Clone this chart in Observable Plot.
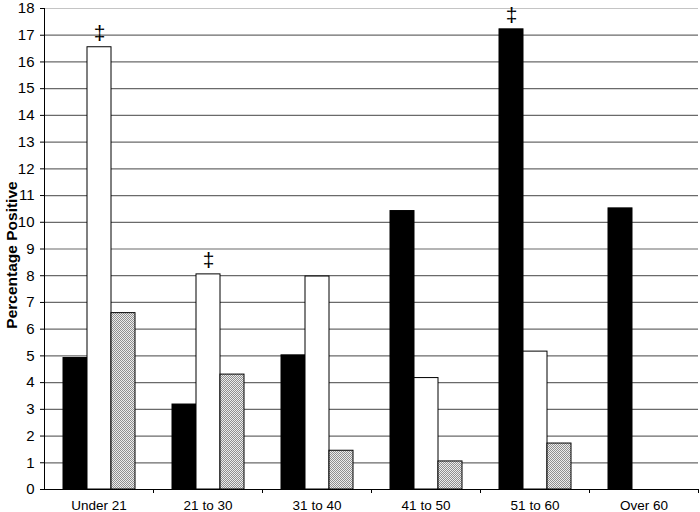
<!DOCTYPE html>
<html>
<head>
<meta charset="utf-8">
<script src="https://cdn.jsdelivr.net/npm/d3@7"></script>
<script src="https://cdn.jsdelivr.net/npm/@observablehq/plot@0.6"></script>
<style>
  html, body { margin: 0; padding: 0; background: white; }
</style>
</head>
<body>
<div id="chart"></div>
<script>
const categories = ["Under 21", "21 to 30", "31 to 40", "41 to 50", "51 to 60", "Over 60"];
const seriesNames = ["Series 1", "Series 2", "Series 3"];
const series1 = [4.92, 3.18, 5.02, 10.42, 17.22, 10.52];
const series2 = [16.55, 8.05, 7.97, 4.17, 5.16, null];
const series3 = [6.60, 4.30, 1.45, 1.05, 1.72, null];
const yTicks = [0, 1, 2, 3, 4, 5, 6, 7, 8, 9, 10, 11, 12, 13, 14, 15, 16, 17, 18];
const daggerCategories = ["Under 21", "21 to 30", "51 to 60"];
const daggerSeries = ["Series 2", "Series 2", "Series 1"];
const yLabel = "Percentage Positive";

const seriesValues = [series1, series2, series3];
const table = [];
categories.forEach((c, i) => {
  seriesNames.forEach((s, j) => {
    const v = seriesValues[j][i];
    if (v != null) table.push({category: c, series: s, value: v});
  });
});
const daggers = daggerCategories.map((c, k) => {
  const s = daggerSeries[k];
  const j = seriesNames.indexOf(s);
  return {category: c, series: s, value: seriesValues[j][categories.indexOf(c)]};
});

const W = 700, H = 512, mL = 44, mR = 2, mT = 8, mB = 23;
const fxBand = (W - mL - mR) / categories.length;
const fills = {"Series 1": "black", "Series 2": "white", "Series 3": "url(#dots)"};

function defsMark() {
  const ns = "http://www.w3.org/2000/svg";
  const defs = document.createElementNS(ns, "defs");
  const pat = document.createElementNS(ns, "pattern");
  pat.setAttribute("id", "dots");
  pat.setAttribute("patternUnits", "userSpaceOnUse");
  pat.setAttribute("width", 2);
  pat.setAttribute("height", 2);
  const cells = [[0, 0, "#ececec", 2, 2], [0, 0, "#8f8f8f", 1, 1], [1, 1, "#8f8f8f", 1, 1]];
  for (const [x, y, f, w, h] of cells) {
    const r = document.createElementNS(ns, "rect");
    r.setAttribute("x", x); r.setAttribute("y", y);
    r.setAttribute("width", w); r.setAttribute("height", h);
    r.setAttribute("fill", f);
    pat.appendChild(r);
  }
  defs.appendChild(pat);
  return defs;
}

const chart = Plot.plot({
  width: W,
  height: H,
  marginLeft: mL,
  marginRight: mR,
  marginTop: mT,
  marginBottom: mB,
  style: {fontFamily: "'Liberation Sans', Arial, sans-serif", fontSize: "14px", background: "white", color: "black"},
  fx: {domain: categories, padding: 0, label: null, axis: null},
  x: {domain: seriesNames, paddingInner: 0, paddingOuter: 0.77, axis: null},
  y: {domain: [0, 18], axis: null},
  marks: [
    defsMark,
    Plot.gridY(yTicks.filter(t => t > 0 && t < 18), {stroke: "#6a6a6a", strokeOpacity: 1, strokeWidth: 1.2}),
    Plot.ruleY([18], {stroke: "#c4c4c4", strokeWidth: 1.2}),
    Plot.barY(table, {fx: "category", x: "series", y: "value", fill: d => fills[d.series], stroke: "black", strokeWidth: 1}),
    Plot.ruleY([0], {stroke: "black", strokeWidth: 1}),
    Plot.frame({anchor: "left", fx: categories[0], stroke: "black"}),
    Plot.text(daggers, {fx: "category", x: "series", y: "value", text: () => "‡", dy: -14, fontSize: 21}),
    Plot.axisY({ticks: yTicks, tickSize: 4, tickPadding: 6, label: null, fontSize: 15, stroke: "black"}),
    Plot.text([yLabel], {fx: () => categories[0], frameAnchor: "left", textAnchor: "middle", rotate: -90, dx: -32, dy: 6, fontWeight: "bold", fontSize: 15.5, text: d => d}),
    Plot.axisFx({anchor: "bottom", tickSize: 0, tickPadding: 11, label: null, fontSize: 13.5}),
    Plot.axisFx({anchor: "bottom", tickSize: 4, text: null, label: null, dx: fxBand / 2, stroke: "black"})
  ]
});
document.getElementById("chart").appendChild(chart);
</script>
</body>
</html>
